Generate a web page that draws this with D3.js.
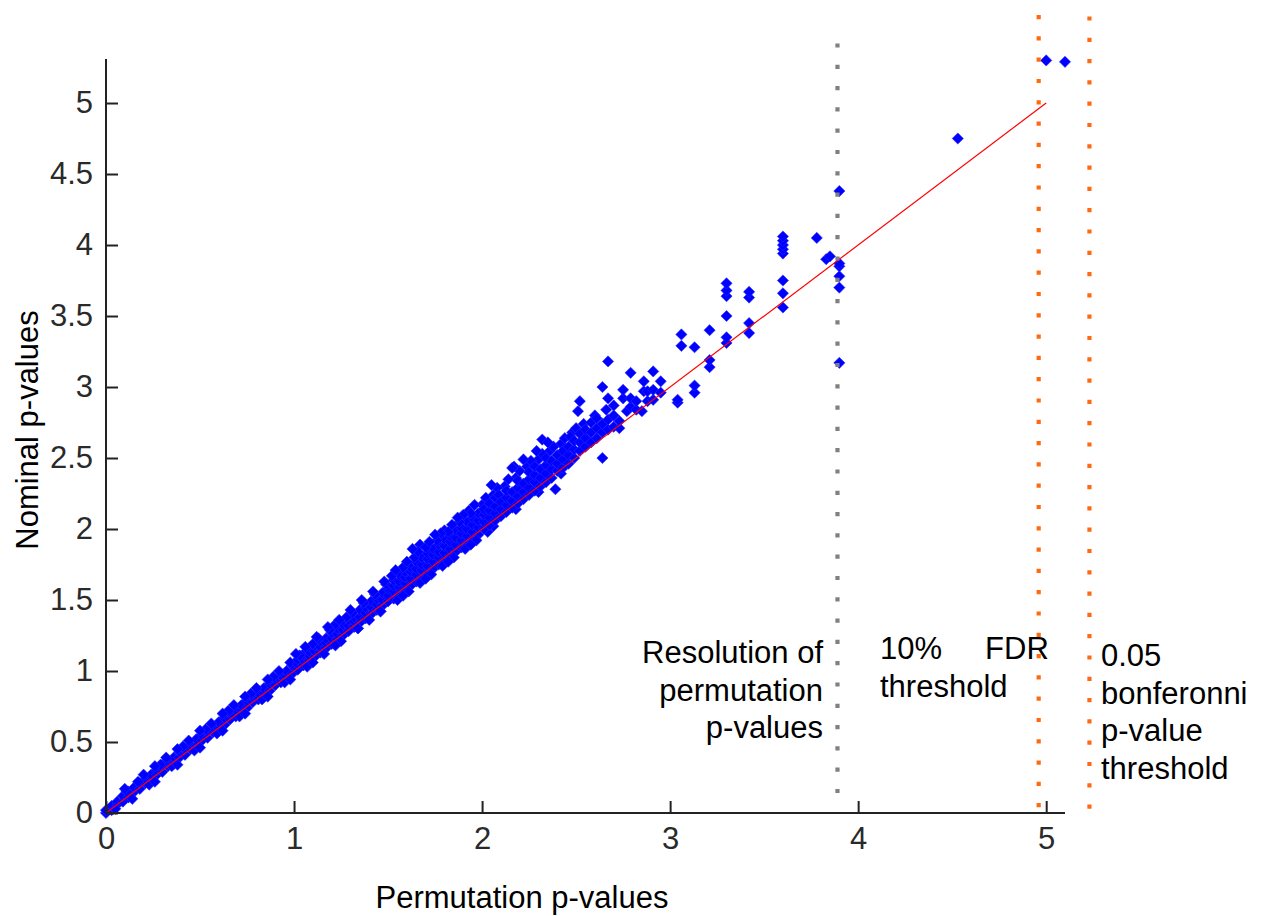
<!DOCTYPE html>
<html>
<head>
<meta charset="utf-8">
<script src="https://cdn.jsdelivr.net/npm/d3@7"></script>
<style>
  html, body { margin: 0; padding: 0; background: #ffffff; }
  svg { display: block; }
  text { font-family: "Liberation Sans", Arial, Helvetica, sans-serif; }
</style>
</head>
<body>
<svg id="chart" width="1268" height="916"></svg>
<script>
// ---------------- DATA ----------------
// [permutation -log10 p, nominal -log10 p]
const bandLow = [
  [0.00,0.00],[0.00,0.02],[0.03,0.02],[0.03,0.05],[0.06,0.06],[0.06,0.08],
  [0.09,0.08],[0.09,0.12],[0.12,0.11],[0.12,0.15],[0.15,0.15],[0.15,0.18],
  [0.18,0.17],[0.18,0.21],[0.21,0.21],[0.21,0.24],[0.24,0.23],[0.24,0.27],
  [0.27,0.27],[0.27,0.30],[0.30,0.29],[0.30,0.34],[0.33,0.33],[0.33,0.36],
  [0.36,0.35],[0.36,0.39],[0.39,0.39],[0.39,0.43],[0.42,0.41],[0.42,0.45],
  [0.45,0.45],[0.45,0.48],[0.48,0.47],[0.48,0.52],[0.51,0.51],[0.51,0.55],
  [0.54,0.53],[0.54,0.57],[0.57,0.57],[0.57,0.60],[0.60,0.59],[0.60,0.64],
  [0.63,0.62],[0.63,0.67],[0.66,0.66],[0.66,0.70],[0.69,0.68],[0.69,0.73],
  [0.72,0.72],[0.72,0.76],[0.75,0.74],[0.75,0.79],[0.78,0.78],[0.78,0.82],
  [0.81,0.80],[0.81,0.85],[0.84,0.84],[0.84,0.88],[0.87,0.86],[0.87,0.91],
  [0.90,0.90],[0.90,0.94],[0.93,0.92],[0.93,0.97],[0.96,0.96],[0.96,1.00],
  [0.99,0.98],[0.99,1.04]
];
const bandLowExtra = [
  [0.05,0.03],[0.11,0.15],[0.17,0.22],[0.23,0.20],[0.29,0.34],[0.35,0.33],
  [0.41,0.47],[0.47,0.44],[0.53,0.59],[0.59,0.56],[0.65,0.72],[0.71,0.68],
  [0.77,0.84],[0.83,0.80],[0.89,0.96],[0.95,0.92],[0.98,1.06],
  [0.10,0.17],[0.20,0.27],[0.26,0.33],[0.32,0.39],[0.38,0.45],[0.44,0.51],
  [0.50,0.58],[0.56,0.63],[0.62,0.70],[0.68,0.76],[0.74,0.82],[0.80,0.88],
  [0.86,0.94],[0.92,1.00],
  [0.14,0.10],[0.26,0.22],[0.38,0.34],[0.50,0.46],[0.62,0.58],[0.74,0.70],
  [0.86,0.82],[0.98,0.94]
];
const bandMid = [
  [1.02,1.01],[1.02,1.05],[1.02,1.08],[1.05,1.04],[1.05,1.08],[1.05,1.12],
  [1.08,1.07],[1.08,1.11],[1.08,1.14],[1.11,1.10],[1.11,1.14],[1.11,1.18],
  [1.14,1.13],[1.14,1.17],[1.14,1.21],[1.17,1.16],[1.17,1.20],[1.17,1.23],
  [1.20,1.19],[1.20,1.23],[1.20,1.27],[1.23,1.22],[1.23,1.26],[1.23,1.30],
  [1.26,1.25],[1.26,1.29],[1.26,1.33],[1.29,1.28],[1.29,1.32],[1.29,1.36],
  [1.32,1.31],[1.32,1.35],[1.32,1.38],[1.35,1.34],[1.35,1.38],[1.35,1.43],
  [1.38,1.37],[1.38,1.41],[1.38,1.45],[1.41,1.40],[1.41,1.45],[1.41,1.49],
  [1.44,1.43],[1.44,1.47],[1.44,1.51],[1.47,1.46],[1.47,1.50],[1.47,1.55],
  [1.50,1.49],[1.50,1.53],[1.50,1.58]
];
const bandMidExtra = [
  [1.03,1.11],[1.07,1.03],[1.10,1.19],[1.13,1.23],[1.16,1.12],[1.19,1.29],
  [1.22,1.33],[1.25,1.21],[1.28,1.38],[1.31,1.41],[1.34,1.30],[1.37,1.48],
  [1.40,1.36],[1.43,1.54],[1.46,1.42],[1.49,1.61],
  [1.01,1.12],[1.06,1.17],[1.12,1.24],[1.18,1.31],[1.24,1.36],[1.30,1.43],
  [1.36,1.50],[1.42,1.56],[1.48,1.63],
  [1.10,1.06],[1.22,1.18],[1.34,1.30],[1.46,1.42]
];
const bandHigh = [
  [1.53,1.51],[1.53,1.56],[1.53,1.60],[1.53,1.64],[1.56,1.54],[1.56,1.59],[1.56,1.63],[1.56,1.68],
  [1.59,1.57],[1.59,1.62],[1.59,1.66],[1.59,1.70],[1.62,1.60],[1.62,1.65],[1.62,1.70],[1.62,1.73],
  [1.65,1.63],[1.65,1.68],[1.65,1.72],[1.65,1.77],[1.67,1.89],[1.68,1.66],[1.68,1.71],[1.68,1.75],[1.68,1.80],
  [1.71,1.69],[1.71,1.74],[1.71,1.79],[1.71,1.83],[1.74,1.72],[1.74,1.77],[1.74,1.82],[1.74,1.86],
  [1.77,1.75],[1.77,1.80],[1.77,1.84],[1.77,1.89],[1.80,1.78],[1.80,1.83],[1.80,1.88],[1.80,1.93],[1.80,1.99],
  [1.83,1.81],[1.83,1.86],[1.83,1.91],[1.83,1.95],[1.86,1.84],[1.86,1.89],[1.86,1.94],[1.86,1.99],
  [1.89,1.87],[1.89,1.92],[1.89,1.97],[1.89,2.01],[1.92,1.90],[1.92,1.95],[1.92,2.00],[1.92,2.05],[1.93,2.13],
  [1.95,1.93],[1.95,1.98],[1.95,2.03],[1.95,2.08],[1.98,1.96],[1.98,2.01],[1.98,2.06],[1.98,2.11]
];
const bandHighExtra = [
  [1.52,1.67],[1.55,1.50],[1.58,1.73],[1.61,1.56],[1.64,1.80],[1.67,1.62],
  [1.70,1.87],[1.73,1.68],[1.76,1.92],[1.79,1.74],[1.82,1.98],[1.85,1.80],
  [1.88,2.05],[1.91,1.86],[1.94,2.11],[1.97,1.92],[2.00,2.17],[2.03,1.98],
  [2.06,2.24],[2.12,2.30],[2.18,2.36],[2.24,2.44],[2.30,2.49],[2.36,2.55],
  [2.42,2.60],[2.48,2.68],[2.54,2.74],[2.60,2.80],
  [1.54,1.71],[1.60,1.77],[1.66,1.84],[1.72,1.91],[1.78,1.97],[1.84,2.03],
  [1.90,2.10],[1.96,2.17],[1.63,1.86],[1.75,1.96],[1.87,2.08],
  [1.58,1.53],[1.70,1.65],[1.82,1.77],[1.94,1.89],
  [2.02,2.22],[2.08,2.29],[2.14,2.35],[2.20,2.41],[2.26,2.48],[2.32,2.53],
  [2.38,2.58],[2.44,2.64],[2.50,2.71],[2.05,2.31],[2.17,2.44],[2.29,2.55],
  [2.06,2.02],[2.18,2.14],[2.30,2.26],[2.42,2.39]
];
const upperScatter = [
  [2.01,2.00],[2.01,2.05],[2.01,2.10],[2.01,2.14],[2.04,2.03],[2.04,2.08],[2.04,2.13],[2.04,2.18],
  [2.07,2.06],[2.07,2.11],[2.07,2.16],[2.07,2.22],[2.09,2.24],[2.10,2.09],[2.10,2.14],[2.10,2.19],
  [2.13,2.12],[2.13,2.17],[2.13,2.22],[2.13,2.27],[2.16,2.15],[2.16,2.20],[2.16,2.26],[2.16,2.43],
  [2.19,2.18],[2.19,2.23],[2.19,2.29],[2.19,2.34],[2.22,2.21],[2.22,2.26],[2.22,2.32],[2.22,2.49],
  [2.25,2.24],[2.25,2.29],[2.25,2.35],[2.25,2.40],[2.28,2.27],[2.28,2.33],[2.28,2.38],[2.28,2.44],
  [2.31,2.30],[2.31,2.36],[2.31,2.42],[2.32,2.63],[2.34,2.33],[2.34,2.39],[2.34,2.45],[2.34,2.50],
  [2.35,2.61],[2.37,2.36],[2.37,2.42],[2.37,2.48],[2.39,2.28],[2.40,2.41],[2.40,2.46],[2.40,2.52],
  [2.43,2.43],[2.43,2.49],[2.43,2.55],[2.46,2.46],[2.46,2.52],[2.46,2.58],[2.47,2.65],
  [2.49,2.50],[2.49,2.56],[2.49,2.62],[2.52,2.55],[2.52,2.61],[2.52,2.67],[2.51,2.83],[2.52,2.90],
  [2.55,2.58],[2.55,2.64],[2.55,2.70],[2.58,2.61],[2.58,2.68],[2.58,2.75],[2.61,2.64],[2.61,2.71],[2.61,2.78],
  [2.64,2.50],[2.64,2.68],[2.64,2.74],[2.64,3.00],[2.66,2.84],[2.67,2.70],[2.67,2.77],[2.67,2.92],[2.67,3.18],
  [2.70,2.72],[2.70,2.80],[2.70,2.87],[2.73,2.71],[2.73,2.76],[2.75,2.92],[2.75,2.98],[2.77,2.83],
  [2.79,2.86],[2.79,2.92],[2.79,3.10],[2.82,2.84],[2.82,2.90],[2.85,2.83],[2.86,2.97],[2.86,3.04],
  [2.88,2.90],[2.88,2.97],[2.91,2.91],[2.91,2.98],[2.91,3.11],[2.95,2.96],[2.95,3.04]
];
const sparsePoints = [
  [3.04,2.89],[3.04,2.91],[3.06,3.29],[3.06,3.37],[3.13,2.96],[3.13,3.01],[3.13,3.28],
  [3.21,3.14],[3.21,3.19],[3.21,3.40],
  [3.30,3.31],[3.30,3.35],[3.30,3.50],[3.30,3.64],[3.30,3.68],[3.30,3.73],
  [3.42,3.38],[3.42,3.45],[3.42,3.63],[3.42,3.67],
  [3.60,3.56],[3.60,3.66],[3.60,3.75],[3.60,3.94],[3.60,3.97],[3.60,4.00],[3.60,4.03],[3.60,4.06],
  [3.78,4.05],[3.83,3.90],[3.85,3.92],
  [3.90,3.17],[3.90,3.70],[3.90,3.78],[3.90,3.85],[3.90,3.87],[3.90,4.38],
  [4.53,4.75],[5.00,5.30],[5.10,5.29]
];
// identity reference line
const identityLine = [[0,0],[5,5]];
// threshold lines: [x, yBottom, yTop]
const resolutionLine = [3.89, 0.09, 5.42];
const fdrLine = [4.96, 0.00, 5.62];
const bonferroniLine = [5.23, 0.00, 5.61];
// ticks
const xTicks = [0,1,2,3,4,5];
const yTicks = [0,0.5,1,1.5,2,2.5,3,3.5,4,4.5,5];
const xDomain = [0, 5.1];
const yDomain = [0, 5.31];
// annotation texts
const resolutionText = ["Resolution of", "permutation", "p-values"];
const fdrText = ["10%     FDR", "threshold"];
const bonfText = ["0.05", "bonferonni", "p-value", "threshold"];
const xLabel = "Permutation p-values";
const yLabel = "Nominal p-values";

// ---------------- DRAW ----------------
const svg = d3.select("#chart");
const x = d3.scaleLinear().domain(xDomain).range([106, 1065]);
const y = d3.scaleLinear().domain(yDomain).range([813, 59]);

const allPoints = [].concat(bandLow, bandLowExtra, bandMid, bandMidExtra,
  bandHigh, bandHighExtra, upperScatter, sparsePoints);

const diamond = "M0,-5.6L5.6,0L0,5.6L-5.6,0Z";
svg.append("g").selectAll("path")
  .data(allPoints)
  .join("path")
  .attr("d", diamond)
  .attr("transform", d => `translate(${x(d[0])},${y(d[1])})`)
  .attr("fill", "#0000ff")
  .attr("stroke", "#2a2aff")
  .attr("stroke-width", 0.6);

// identity line
svg.append("path")
  .attr("d", d3.line().x(d => x(d[0])).y(d => y(d[1]))(identityLine))
  .attr("stroke", "#ff0000")
  .attr("stroke-width", 1.2)
  .attr("fill", "none");

// threshold lines
function vline(def, color) {
  svg.append("line")
    .attr("x1", x(def[0])).attr("x2", x(def[0]))
    .attr("y1", y(def[2])).attr("y2", y(def[1]))
    .attr("stroke", color)
    .attr("stroke-width", 4.2)
    .attr("stroke-dasharray", "4.2 17.1");
}
vline(resolutionLine, "#808080");
vline(fdrLine, "#ff6a10");
vline(bonferroniLine, "#ff6a10");

// axes
const fontSize = 31;
const xAxis = d3.axisBottom(x).tickValues(xTicks).tickFormat(d3.format("~g"))
  .tickSizeInner(-12).tickSizeOuter(0).tickPadding(14);
const yAxis = d3.axisLeft(y).tickValues(yTicks).tickFormat(d3.format("~g"))
  .tickSizeInner(-12).tickSizeOuter(0).tickPadding(13);

const gx = svg.append("g").attr("transform", `translate(0,${y(0)})`).call(xAxis);
const gy = svg.append("g").attr("transform", `translate(${x(0)},0)`).call(yAxis);
[gx, gy].forEach(g => {
  g.select(".domain").attr("stroke", "#222").attr("stroke-width", 2);
  g.selectAll(".tick line").attr("stroke", "#222").attr("stroke-width", 2);
  g.selectAll(".tick text").attr("fill", "#2a2a2a")
    .style("font-size", fontSize + "px")
    .style("font-family", "'Liberation Sans', Arial, sans-serif");
});
gy.select(".domain").attr("d", `M0,${y(0)}V${y(yDomain[1])}`);
gx.select(".domain").attr("d", `M${x(0)},0H${x(xDomain[1])}`);

// axis labels
svg.append("text")
  .attr("x", 522).attr("y", 908)
  .attr("text-anchor", "middle")
  .attr("fill", "#000")
  .style("font-size", fontSize + "px")
  .text(xLabel);
svg.append("text")
  .attr("transform", "translate(38,430) rotate(-90)")
  .attr("text-anchor", "middle")
  .attr("fill", "#000")
  .style("font-size", fontSize + "px")
  .text(yLabel);

// annotations
function block(lines, ax, ay, anchor) {
  const t = svg.append("text")
    .attr("text-anchor", anchor)
    .attr("fill", "#000")
    .style("font-size", fontSize + "px")
    .style("white-space", "pre")
    .attr("xml:space", "preserve");
  lines.forEach((s, i) => {
    t.append("tspan").attr("x", ax).attr("y", ay + i * 37.5).text(s);
  });
}
block(resolutionText, 823, 663, "end");
block(fdrText, 880, 659, "start");
block(bonfText, 1101, 666, "start");
</script>
</body>
</html>
